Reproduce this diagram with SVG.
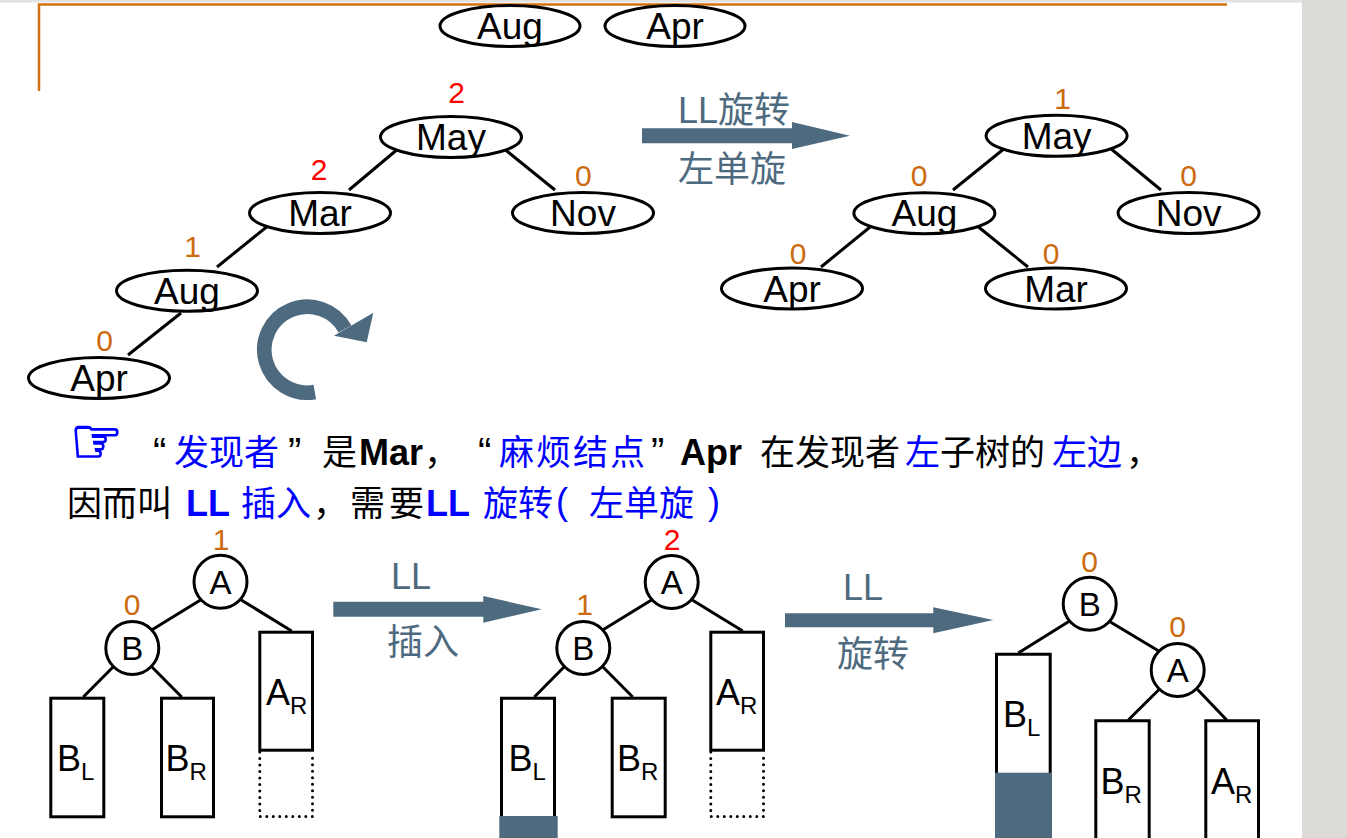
<svg xmlns="http://www.w3.org/2000/svg" width="1347" height="838" viewBox="0 0 1347 838">
<defs>
<style>
.node ellipse, .node circle {fill:#fff; stroke:#000; stroke-width:3}
.box {fill:#fff; stroke:#000; stroke-width:3}
.lbl {font-family:"Liberation Sans", Arial, sans-serif; font-size:37px; text-anchor:middle; fill:#000}
.cl {font-family:"Liberation Sans", Arial, sans-serif; font-size:33px; text-anchor:middle; fill:#000}
.sl {font-family:"Liberation Sans", Arial, sans-serif; font-size:36px; fill:#000}
.sub {font-size:24px}
.bf {font-family:"Liberation Sans", Arial, sans-serif; font-size:30px; text-anchor:middle; fill:#cc6a10}
.bf.red {fill:#ff0000}
.edge line {stroke:#000; stroke-width:3}
.slate {fill:#4e6a7f}
.cap {font-family:"Liberation Sans", "Noto Sans CJK SC", sans-serif; font-size:36px; fill:#4e6a7f}
.t {font-family:"Noto Sans CJK SC", "Liberation Sans", sans-serif; font-size:35px; fill:#000}
.q {font-family:"Liberation Sans", Arial, sans-serif; font-size:40px; fill:#000}
.p {font-family:"Liberation Sans", Arial, sans-serif; font-size:36px}
.b {font-family:"Liberation Sans", Arial, sans-serif; font-weight:bold; font-size:36px; fill:#000}
.blue {fill:#0000ff}
</style>
</defs>
<rect x="0" y="0" width="1347" height="838" fill="#fff"/>
<rect x="0" y="0" width="1347" height="2.5" fill="#e2e2e2"/>
<rect x="1302" y="0" width="45" height="838" fill="#dcdbd8"/>
<path d="M39,91 V4.5 H1227" fill="none" stroke="#d4700f" stroke-width="2.5"/>

<!-- top row -->
<g id="top-aug" class="node"><ellipse cx="510" cy="26" rx="70" ry="20.5"/><text class="lbl" x="510" y="39">Aug</text></g>
<g id="top-apr" class="node"><ellipse cx="675" cy="26" rx="70" ry="20.5"/><text class="lbl" x="675" y="39">Apr</text></g>

<!-- connectors -->
<g id="connectors" class="edge">
<line x1="399" y1="148" x2="349" y2="190"/>
<line x1="503" y1="148" x2="555" y2="190"/>
<line x1="269" y1="225" x2="217" y2="267"/>
<line x1="181" y1="313" x2="128" y2="355"/>
<line x1="1005" y1="148" x2="953" y2="190"/>
<line x1="1110" y1="148" x2="1161" y2="190"/>
<line x1="872.5" y1="225" x2="821" y2="267"/>
<line x1="976" y1="225" x2="1028" y2="267"/>
<line x1="201.7" y1="599.3" x2="151.7" y2="630"/>
<line x1="240" y1="599.3" x2="291.7" y2="631"/>
<line x1="113.3" y1="666.7" x2="83.3" y2="697"/>
<line x1="151.7" y1="666.7" x2="181.7" y2="697"/>
<line x1="652.7" y1="599.3" x2="602.7" y2="630"/>
<line x1="691" y1="599.3" x2="742.7" y2="631"/>
<line x1="564.3" y1="666.7" x2="534.3" y2="697"/>
<line x1="602.7" y1="666.7" x2="632.7" y2="697"/>
<line x1="1070" y1="620.7" x2="1018.3" y2="653"/>
<line x1="1108.3" y1="620.7" x2="1158.3" y2="650.7"/>
<line x1="1159.3" y1="689.3" x2="1128.3" y2="720"/>
<line x1="1197.3" y1="689.3" x2="1226.7" y2="720"/>
</g>

<!-- left tree (before rotation) -->
<g id="l-may" class="node"><ellipse cx="451" cy="137" rx="70.5" ry="20.5"/><text class="lbl" x="451" y="150">May</text><text class="bf red" x="456.5" y="103">2</text></g>
<g id="l-mar" class="node"><ellipse cx="320" cy="213" rx="70.5" ry="20.5"/><text class="lbl" x="320" y="226">Mar</text><text class="bf red" x="319" y="180">2</text></g>
<g id="l-nov" class="node"><ellipse cx="583" cy="213" rx="70.5" ry="20.5"/><text class="lbl" x="583" y="226">Nov</text><text class="bf" x="583.3" y="185.7">0</text></g>
<g id="l-aug" class="node"><ellipse cx="187" cy="290.7" rx="70.5" ry="20.5"/><text class="lbl" x="187" y="303.5">Aug</text><text class="bf" x="192.5" y="256.7">1</text></g>
<g id="l-apr" class="node"><ellipse cx="99" cy="378" rx="70.5" ry="20.5"/><text class="lbl" x="99" y="391">Apr</text><text class="bf" x="104.5" y="351">0</text></g>

<!-- rotation symbol -->
<g id="rotate-icon">
<path d="M314.8,392 A43,43 0 1 1 345,329" fill="none" stroke="#4e6a7f" stroke-width="14.6"/>
<polygon points="373.3,312.7 366.7,342.3 334,335.7" fill="#4e6a7f"/>
</g>

<!-- arrow LL rotation -->
<g id="arrow-top">
<polygon class="slate" points="642,128.3 792,128.3 792,122 850,135.7 792,149 792,143.3 642,143.3"/>
<text class="cap" x="678" y="123">LL旋转</text>
<text class="cap" x="678" y="182">左单旋</text>
</g>

<!-- right tree (after rotation) -->
<g id="r-may" class="node"><ellipse cx="1056.6" cy="135.8" rx="70.5" ry="20.5"/><text class="lbl" x="1056.6" y="148.5">May</text><text class="bf" x="1062.5" y="109">1</text></g>
<g id="r-aug" class="node"><ellipse cx="924.4" cy="213.3" rx="70.5" ry="20.5"/><text class="lbl" x="924.4" y="226">Aug</text><text class="bf" x="919" y="186">0</text></g>
<g id="r-nov" class="node"><ellipse cx="1188.6" cy="213" rx="70.5" ry="20.5"/><text class="lbl" x="1188.6" y="226">Nov</text><text class="bf" x="1188.7" y="186">0</text></g>
<g id="r-apr" class="node"><ellipse cx="792" cy="288.5" rx="70.5" ry="20.5"/><text class="lbl" x="792" y="301.5">Apr</text><text class="bf" x="798" y="264">0</text></g>
<g id="r-mar" class="node"><ellipse cx="1056" cy="288.5" rx="70.5" ry="20.5"/><text class="lbl" x="1056" y="301.5">Mar</text><text class="bf" x="1051" y="264">0</text></g>

<!-- explanation text -->
<g id="note">
<text x="70" y="464" font-family="DejaVu Sans, sans-serif" font-size="66" fill="#0000ff" stroke="#0000ff" stroke-width="1.6" textLength="53" lengthAdjust="spacingAndGlyphs">☞</text>
<text class="q" x="153" y="466">“</text>
<text class="t blue" x="174" y="465">发现者</text>
<text class="q" x="288" y="466">”</text>
<text class="t" x="322" y="465">是</text>
<text class="b" x="359" y="465">Mar</text>
<text class="t" x="424" y="465">，</text>
<text class="q" x="478" y="466">“</text>
<text class="t blue" x="499" y="465" textLength="146" lengthAdjust="spacing">麻烦结点</text>
<text class="q" x="651" y="466">”</text>
<text class="b" x="680" y="465">Apr</text>
<text class="t" x="760" y="465">在发现者</text>
<text class="t blue" x="905" y="465">左</text>
<text class="t" x="940" y="465">子树的</text>
<text class="t blue" x="1052" y="465">左边</text>
<text class="t" x="1126" y="465">，</text>

<text class="t" x="67" y="516">因而叫</text>
<text class="b blue" x="186" y="516">LL</text>
<text class="t blue" x="241" y="516">插入</text>
<text class="t" x="313" y="516">，</text>
<text class="t" x="350" y="516" textLength="74" lengthAdjust="spacing">需要</text>
<text class="b blue" x="426" y="516">LL</text>
<text class="t blue" x="483" y="516">旋转</text>
<text class="p blue" x="556" y="514">(</text>
<text class="t blue" x="589" y="516">左单旋</text>
<text class="p blue" x="708" y="514">)</text>
</g>

<!-- bottom tree 1 -->
<g id="t1-A" class="node"><circle cx="220.5" cy="581.7" r="26.5"/><text class="cl" x="220.5" y="593.5">A</text><text class="bf" x="221" y="550">1</text></g>
<g id="t1-B" class="node"><circle cx="132.3" cy="648" r="26.5"/><text class="cl" x="132.3" y="660">B</text><text class="bf" x="132" y="615">0</text></g>
<g id="t1-BL"><rect class="box" x="50.8" y="698.2" width="53" height="118.6"/><text class="sl" x="57" y="771">B<tspan class="sub" dy="9">L</tspan></text></g>
<g id="t1-BR"><rect class="box" x="161.5" y="698.2" width="52" height="118.6"/><text class="sl" x="165.5" y="771">B<tspan class="sub" dy="9">R</tspan></text></g>
<g id="t1-AR"><rect class="box" x="259.8" y="632.2" width="52.7" height="118"/><text class="sl" x="266" y="705">A<tspan class="sub" dy="9">R</tspan></text>
<path d="M259.8,752 V816.5 H312.5 V752" fill="none" stroke="#000" stroke-width="3" stroke-linecap="round" stroke-dasharray="0 6.5"/></g>

<!-- arrow LL insert -->
<g id="arrow-insert">
<polygon class="slate" points="333.3,601.7 483.3,601.7 483.3,596 541.7,609.3 483.3,622.7 483.3,616.7 333.3,616.7"/>
<text class="cap" x="391" y="589">LL</text>
<text class="cap" x="387" y="655">插入</text>
</g>

<!-- bottom tree 2 -->
<g id="t2-A" class="node"><circle cx="671.7" cy="582" r="26.5"/><text class="cl" x="671.7" y="594">A</text><text class="bf red" x="672" y="550">2</text></g>
<g id="t2-B" class="node"><circle cx="583.3" cy="648" r="26.5"/><text class="cl" x="583.3" y="660">B</text><text class="bf" x="584.5" y="615">1</text></g>
<g id="t2-BL"><path d="M501.5,840 V698.2 H554.5 V840" class="box"/><rect x="499.3" y="816" width="58.4" height="24" fill="#4e6a7f"/><text class="sl" x="508.5" y="771">B<tspan class="sub" dy="9">L</tspan></text></g>
<g id="t2-BR"><rect class="box" x="612.2" y="698.2" width="53" height="118.6"/><text class="sl" x="617" y="771">B<tspan class="sub" dy="9">R</tspan></text></g>
<g id="t2-AR"><rect class="box" x="710.8" y="632.2" width="52.7" height="118"/><text class="sl" x="716" y="705">A<tspan class="sub" dy="9">R</tspan></text>
<path d="M710.8,752 V816.5 H763.5 V752" fill="none" stroke="#000" stroke-width="3" stroke-linecap="round" stroke-dasharray="0 6.5"/></g>

<!-- arrow LL rotate -->
<g id="arrow-rotate">
<polygon class="slate" points="785,613.3 933.3,613.3 933.3,607.3 993.3,620 933.3,633.3 933.3,627.3 785,627.3"/>
<text class="cap" x="843" y="600">LL</text>
<text class="cap" x="837" y="667">旋转</text>
</g>

<!-- bottom tree 3 -->
<g id="t3-B" class="node"><circle cx="1089.7" cy="603.8" r="26.5"/><text class="cl" x="1089.7" y="615.5">B</text><text class="bf" x="1089.5" y="571.7">0</text></g>
<g id="t3-A" class="node"><circle cx="1177.7" cy="670" r="26.5"/><text class="cl" x="1177.7" y="682">A</text><text class="bf" x="1177.5" y="637">0</text></g>
<g id="t3-BL"><path d="M996.5,840 V654.2 H1050.2 V840" class="box"/><rect x="995" y="772.7" width="57" height="67" fill="#4e6a7f"/><text class="sl" x="1003" y="727">B<tspan class="sub" dy="9">L</tspan></text></g>
<g id="t3-BR"><path d="M1095.8,840 V720.8 H1149.2 V840" class="box"/><text class="sl" x="1100.5" y="794">B<tspan class="sub" dy="9">R</tspan></text></g>
<g id="t3-AR"><path d="M1205.8,840 V720.8 H1258.5 V840" class="box"/><text class="sl" x="1211" y="794">A<tspan class="sub" dy="9">R</tspan></text></g>
</svg>
